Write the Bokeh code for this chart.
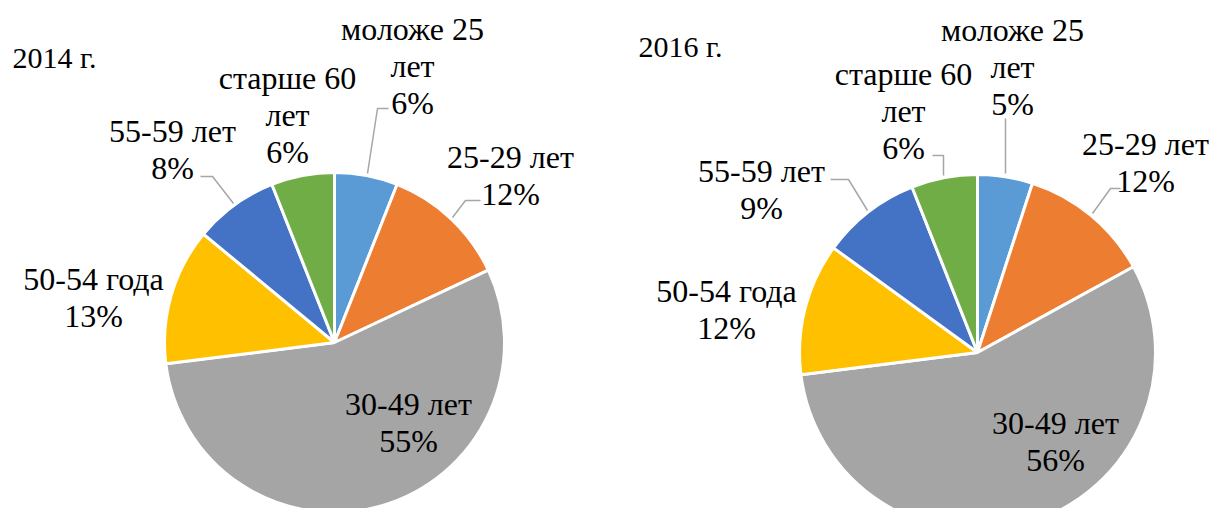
import numpy as np
from bokeh.plotting import figure
from bokeh.models import Range1d
from bokeh.embed import file_html
from bokeh.resources import INLINE
from bokeh.core.properties import value

# ---------------- data ----------------
category_lines = [["моложе 25", "лет"], ["25-29 лет"], ["30-49 лет"],
                  ["50-54 года"], ["55-59 лет"], ["старше 60", "лет"]]
values_2014 = [6, 12, 55, 13, 8, 6]
values_2016 = [5, 12, 56, 12, 9, 6]
titles = ["2014 г.", "2016 г."]
colors = ["#5B9BD5", "#ED7D31", "#A5A5A5", "#FFC000", "#4472C4", "#70AD47"]

# ---------------- layout (screen px) ----------------
W, H = 1212, 508
FONT = value("'Liberation Serif', 'Times New Roman', serif")
FS_LABEL = "32px"
FS_TITLE = "30px"
LINE = 37
TXT_DY = -10  # baseline correction

pies = [
    dict(values=values_2014, title=titles[0], title_pos=(12, 67),
         center=(334, 342), r=170,
         labels=[(412, 38), (510, 166), (408, 413), (93, 288), (172, 140), (287, 87)],
         leaders=[[(367, 173), (377, 108), (388, 108)],
                  [(452, 217), (465, 200), (480, 200)],
                  [(233, 203), (212, 176), (200, 176)]]),
    dict(values=values_2016, title=titles[1], title_pos=(638, 56),
         center=(977, 352), r=178,
         labels=[(1012, 39), (1145, 153), (1055, 432), (726, 300), (761, 180), (903, 83)],
         leaders=[[(1005, 173), (1005, 118)],
                  [(1092, 213), (1110, 188), (1120, 188)],
                  [(867, 210), (848, 179), (830, 179)],
                  [(943, 175), (943, 155), (932, 155)]]),
]

p = figure(width=W, height=H, output_backend="svg", toolbar_location=None,
           x_range=Range1d(0, W), y_range=Range1d(0, H),
           x_axis_location=None, y_axis_location=None, min_border=0)
p.grid.visible = False
p.outline_line_color = None
p.background_fill_color = "white"

for pie in pies:
    vals = np.array(pie["values"], dtype=float)
    frac = vals / vals.sum()
    cum = np.concatenate([[0], np.cumsum(frac)])
    start = np.pi / 2 - 2 * np.pi * cum[:-1]
    end = np.pi / 2 - 2 * np.pi * cum[1:]
    cx, cy = pie["center"]
    p.wedge(x=[cx] * len(vals), y=[H - cy] * len(vals), radius=pie["r"],
            start_angle=list(start), end_angle=list(end), direction="clock",
            fill_color=colors, line_color="white", line_width=3)

    # leader lines
    xs = [[pt[0] for pt in ld] for ld in pie["leaders"]]
    ys = [[H - pt[1] for pt in ld] for ld in pie["leaders"]]
    p.multi_line(xs=xs, ys=ys, line_color="#A6A6A6", line_width=1.5)

    # labels
    tx, ty, tt = [], [], []
    for (lx, ly), lines, v in zip(pie["labels"], category_lines, pie["values"]):
        for k, line in enumerate(lines + [f"{v}%"]):
            tx.append(lx)
            ty.append(H - (ly + k * LINE + TXT_DY))
            tt.append(line)
    p.text(x=tx, y=ty, text=tt, text_font=FONT, text_font_size=FS_LABEL,
           text_align="center", text_baseline="alphabetic", text_color="black")

    # title
    p.text(x=[pie["title_pos"][0]], y=[H - (pie["title_pos"][1] + TXT_DY)], text=[pie["title"]],
           text_font=FONT, text_font_size=FS_TITLE, text_align="left",
           text_baseline="alphabetic", text_color="black")

open("out.html", "w").write(file_html(p, INLINE))
